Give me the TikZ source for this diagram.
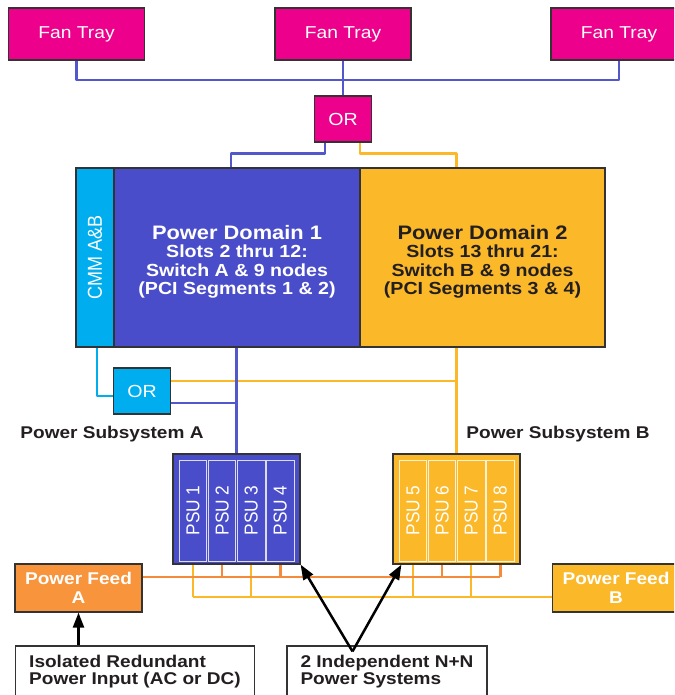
\documentclass[tikz,border=0pt]{standalone}
\usepackage{fontspec}
\setmainfont{Liberation Sans}[FakeStretch=1.12]
\newfontfamily\upFont{Liberation Sans}
\usetikzlibrary{arrows.meta}
\definecolor{fanPink}{HTML}{EC008C}
\definecolor{domBlue}{HTML}{4A4DC9}
\definecolor{domGold}{HTML}{FBB829}
\definecolor{cmmCyan}{HTML}{00AEEF}
\definecolor{feedOrange}{HTML}{F7943C}
\definecolor{edgeGray}{HTML}{333333}
\definecolor{textDark}{HTML}{231F20}
\definecolor{blueWire}{HTML}{5257CC}
\definecolor{goldWire}{HTML}{FBB829}
\definecolor{orangeWire}{HTML}{F58A3A}
\begin{document}
\begin{tikzpicture}[%%
  x=1pt,y=-1pt,%%
  boxStyle/.style={draw=edgeGray,line width=1.2pt,inner sep=0pt},%%
  fanStyle/.style={boxStyle,fill=fanPink,text=white,minimum width=136pt,minimum height=52pt,font=\fontsize{17.2}{18}\selectfont},%%
  orStyle/.style={boxStyle,text=white,minimum width=57pt,minimum height=46pt,font=\fontsize{17.5}{18}\selectfont},%%
  domainStyle/.style={boxStyle,minimum height=179pt,align=center,font=\fontsize{17.5}{18.3}\selectfont\bfseries},%%
  psuStyle/.style={boxStyle,minimum width=127pt,minimum height=110pt},%%
  slotStyle/.style={draw=white!80!#1,fill=#1,line width=0.8pt,rotate=90,minimum width=101pt,minimum height=27.5pt,inner sep=0pt,text=white,font=\upFont\fontsize{17.3}{18}\selectfont},%%
  feedStyle/.style={boxStyle,minimum width=127pt,minimum height=48pt,align=center,text=white,font=\fontsize{17}{18.7}\selectfont\bfseries},%%
  noteStyle/.style={boxStyle,fill=white,minimum height=51pt,align=left,text=textDark,font=\fontsize{17}{17.3}\selectfont\bfseries},%%
  labelStyle/.style={text=textDark,font=\fontsize{17}{18}\selectfont\bfseries},%%
  wireStyle/.style={line width=2.4pt,line join=round},%%
  arrowStyle/.style={-{Triangle[length=15pt,width=11pt]},line width=2.5pt,black}%%
]
%%
\useasboundingbox (0,0) rectangle (674,695);
\clip (0,0) rectangle (674,695);
%%
%% Fan trays and their OR.
\node[fanStyle] (fanLeft) at (76.5,34) {Fan Tray};
\node[fanStyle] (fanMid) at (343,34) {Fan Tray};
\node[fanStyle] (fanRight) at (619,34) {Fan Tray};
\node[orStyle,fill=fanPink] (orFan) at (343,119) {OR};
%%
%% The two power domains with the CMM strip.
\node[boxStyle,fill=cmmCyan,rotate=90,minimum width=179pt,minimum height=38pt,text=white,font=\upFont\fontsize{18}{19}\selectfont] (cmm) at (95,257.5) {\scalebox{1}[1.12]{CMM A\&B}};
\node[domainStyle,fill=domBlue,text=white,minimum width=246pt] (domOne) at (237,257.5)
  {\rule{0pt}{23pt}{\fontsize{19.5}{18.3}\selectfont Power Domain 1}\\Slots 2 thru 12:\\Switch A \& 9 nodes\\(PCI Segments 1 \& 2)};
\node[domainStyle,fill=domGold,text=textDark,minimum width=245pt] (domTwo) at (482.5,257.5)
  {\rule{0pt}{23pt}{\fontsize{19.5}{18.3}\selectfont Power Domain 2}\\Slots 13 thru 21:\\Switch B \& 9 nodes\\(PCI Segments 3 \& 4)};
\node[orStyle,fill=cmmCyan] (orCmm) at (142,391) {OR};
%%
%% Power subsystems.
\node[labelStyle] (subA) at (112,434) {Power Subsystem A};
\node[labelStyle] (subB) at (558,434) {Power Subsystem B};
\node[psuStyle,fill=domBlue] (psuA) at (236.5,509) {};
\node[psuStyle,fill=domGold] (psuB) at (456.5,509) {};
\foreach \i in {1,...,4} {
  \node[slotStyle=domBlue] (psuSlot\i) at ({193+(\i-1)*29.1},510.5) {\scalebox{1}[1.08]{PSU \i}};
}
\foreach \i in {5,...,8} {
  \node[slotStyle=domGold] (psuSlot\i) at ({413+(\i-5)*29.1},510.5) {\scalebox{1}[1.08]{PSU \i}};
}
%%
%% Power feeds and notes.
\node[feedStyle,fill=feedOrange] (feedA) at (78.5,588) {Power Feed\\A};
\node[feedStyle,fill=domGold] (feedB) at (616,588) {Power Feed\\B};
\node[noteStyle,minimum width=239pt] (inputNote) at (135,671.5) {Isolated Redundant\\Power Input (AC or DC)};
\node[noteStyle,minimum width=200pt] (systemNote) at (387,671.5) {2 Independent N+N\\Power Systems};
%%
%% Fan tray wiring.
\coordinate (fanBus) at (343,80);
\draw[wireStyle,blueWire] (fanLeft.south) |- (fanBus) -| (fanRight.south);
\draw[wireStyle,blueWire] (fanMid.south) -- (orFan.north);
\draw[wireStyle,blueWire] ([xshift=-18pt]orFan.south) |- ++(0,11) -| ([xshift=-6pt]domOne.north);
\draw[wireStyle,goldWire] ([xshift=17pt]orFan.south) |- ++(0,11) -| (domTwo.north -| psuB.north);
%%
%% CMM wiring.
\draw[wireStyle,cmmCyan] ([xshift=2pt]cmm.west) |- ([yshift=-5pt]orCmm.west);
\draw[wireStyle,goldWire] ([yshift=10pt]orCmm.east) -| (psuB.north);
\draw[wireStyle,blueWire] ([yshift=-12pt]orCmm.east) -| (psuA.north);
%%
%% Domain feeds down to the PSUs.
\draw[wireStyle,blueWire] (domOne.south -| psuA.north) -- (psuA.north);
\draw[wireStyle,goldWire] (domTwo.south -| psuB.north) -- (psuB.north);
%%
%% Feed buses below the PSUs.
\coordinate (orangeBus) at (0,577);
\coordinate (goldBus) at (0,597);
\foreach \i in {1,3} \draw[wireStyle,goldWire] (psuSlot\i |- psuA.south) -- (psuSlot\i |- goldBus);
\foreach \i in {5,7} \draw[wireStyle,goldWire] (psuSlot\i |- psuB.south) -- (psuSlot\i |- goldBus);
\draw[wireStyle,goldWire] (psuSlot1 |- goldBus) -- (feedB.west |- goldBus);
\draw[wireStyle,orangeWire] (feedA.east |- orangeBus) -- (psuSlot8 |- orangeBus);
\foreach \i in {2,4} \draw[wireStyle,orangeWire] (psuSlot\i |- psuA.south) -- (psuSlot\i |- orangeBus);
\foreach \i in {6,8} \draw[wireStyle,orangeWire] (psuSlot\i |- psuB.south) -- (psuSlot\i |- orangeBus);
%%
%% Arrows from the notes.
\draw[arrowStyle] (inputNote.north -| feedA) -- (feedA.south);
\coordinate (systemApex) at ([xshift=-34.5pt,yshift=-6pt]systemNote.north);
\draw[arrowStyle] (systemApex) -- (psuA.south east);
\draw[arrowStyle] (systemApex) -- ([xshift=9pt]psuB.south west);
\end{tikzpicture}
\end{document}
